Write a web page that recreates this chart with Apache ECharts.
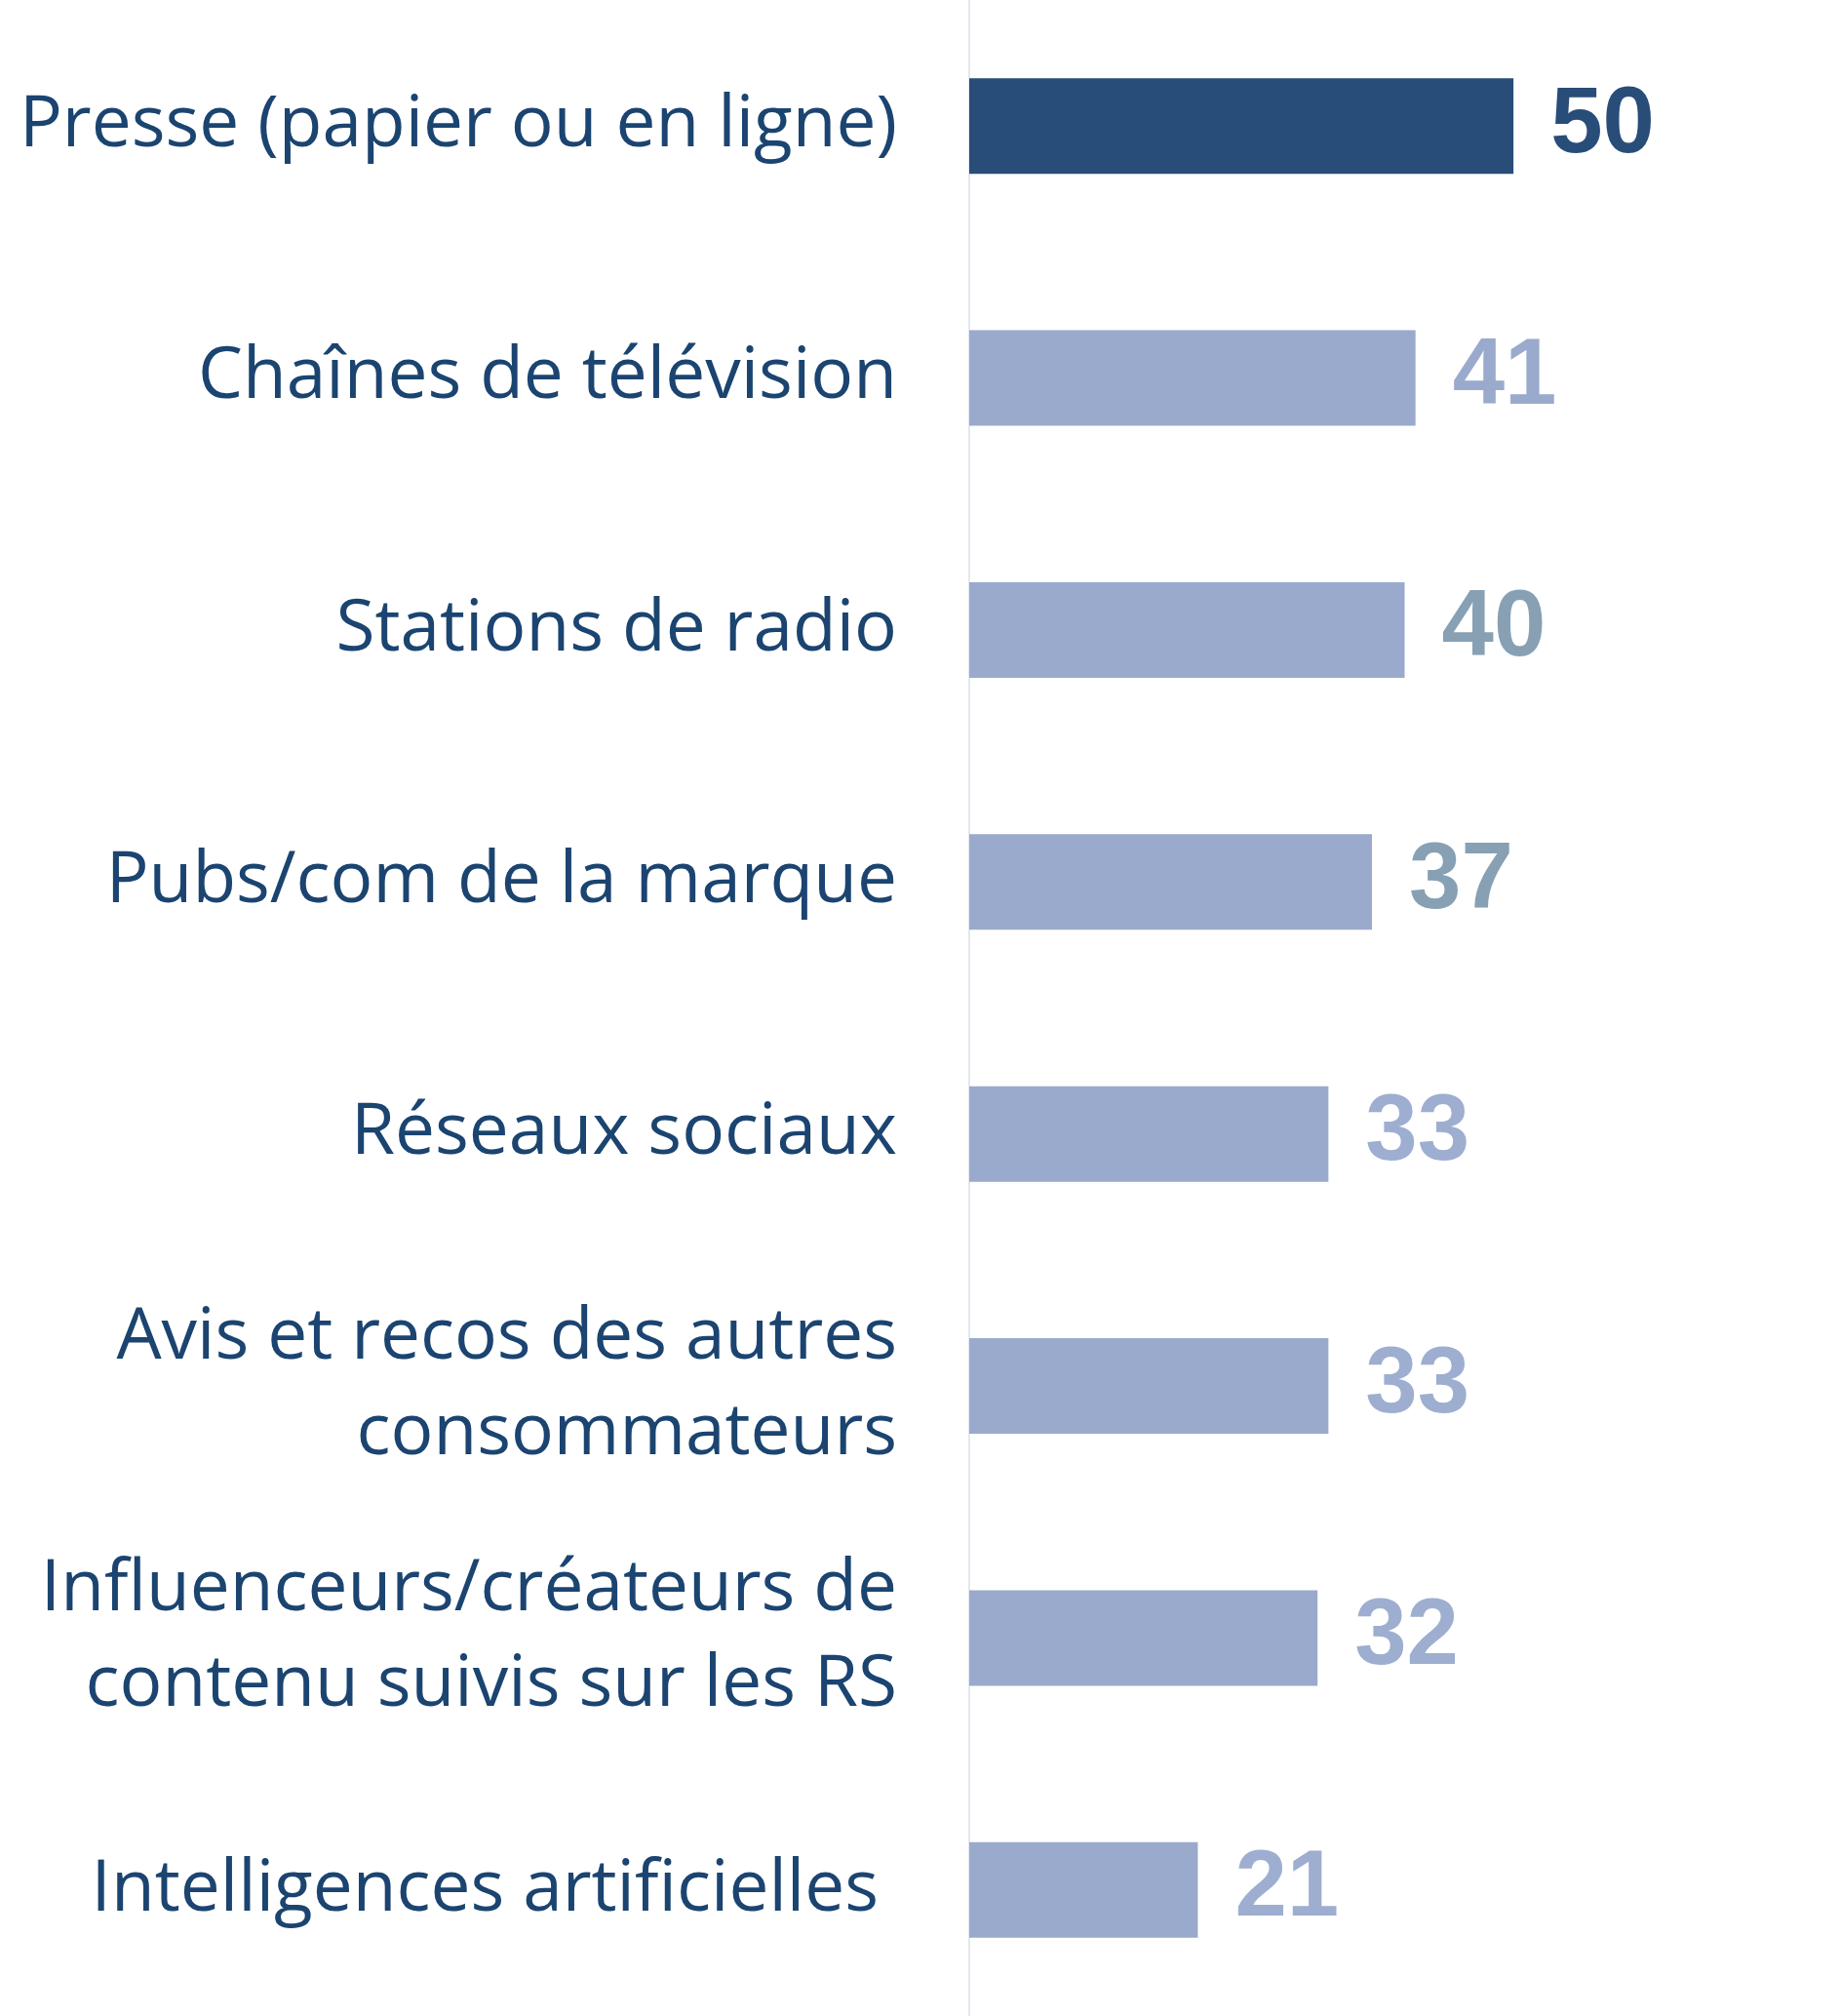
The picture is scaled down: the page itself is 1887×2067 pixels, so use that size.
<!DOCTYPE html>
<html>
<head>
<meta charset="utf-8">
<script src="https://cdn.jsdelivr.net/npm/echarts@6/dist/echarts.min.js"></script>
<style>
html,body{margin:0;padding:0;background:#fff;}
#chart{width:1887px;height:2067px;}
</style>
</head>
<body>
<div id="chart"></div>
<script>
const categories = [
  "Presse (papier ou en ligne)",
  "Chaînes de télévision",
  "Stations de radio",
  "Pubs/com de la marque",
  "Réseaux sociaux",
  "Avis et recos des autres\nconsommateurs",
  "Influenceurs/créateurs de\ncontenu suivis sur les RS",
  "Intelligences artificielles "
];
const values = [50, 41, 40, 37, 33, 33, 32, 21];

const barColors = ["#284d78", "#9aaacc", "#9aaacc", "#9aaacc", "#9aaacc", "#9aaacc", "#9aaacc", "#9aaacc"];
const labelColors = ["#284d78", "#9aaacc", "#87a0b4", "#87a0b4", "#9eaed0", "#9eaed0", "#9eaed0", "#9eaed0"];

const chart = echarts.init(document.getElementById('chart'), null, {renderer: 'canvas'});
chart.setOption({
  animation: false,
  backgroundColor: '#ffffff',
  grid: {left: 994, right: 0, top: 0, bottom: 0, containLabel: false},
  xAxis: {
    type: 'value', min: 0, max: 80, show: false,
    splitLine: {show: false}
  },
  yAxis: {
    type: 'category',
    data: categories,
    inverse: true,
    axisLine: {show: true, lineStyle: {color: '#e3e8f0', width: 2}},
    axisTick: {show: false},
    axisLabel: {
      color: '#1b4470',
      fontFamily: 'Open Sans',
      fontSize: 73,
      lineHeight: 98,
      margin: 74,
      align: 'right',
      padding: [6, 0, 0, 0]
    }
  },
  series: [{
    type: 'bar',
    data: values.map((v, i) => ({
      value: v,
      itemStyle: {color: barColors[i]},
      label: {color: labelColors[i]}
    })),
    barWidth: 98,
    label: {
      show: true,
      position: 'right',
      distance: 38,
      fontFamily: 'Liberation Sans, Arial, sans-serif',
      fontWeight: 'bold',
      fontSize: 96,
      padding: [14, 0, 0, 0]
    }
  }]
});
</script>
</body>
</html>
